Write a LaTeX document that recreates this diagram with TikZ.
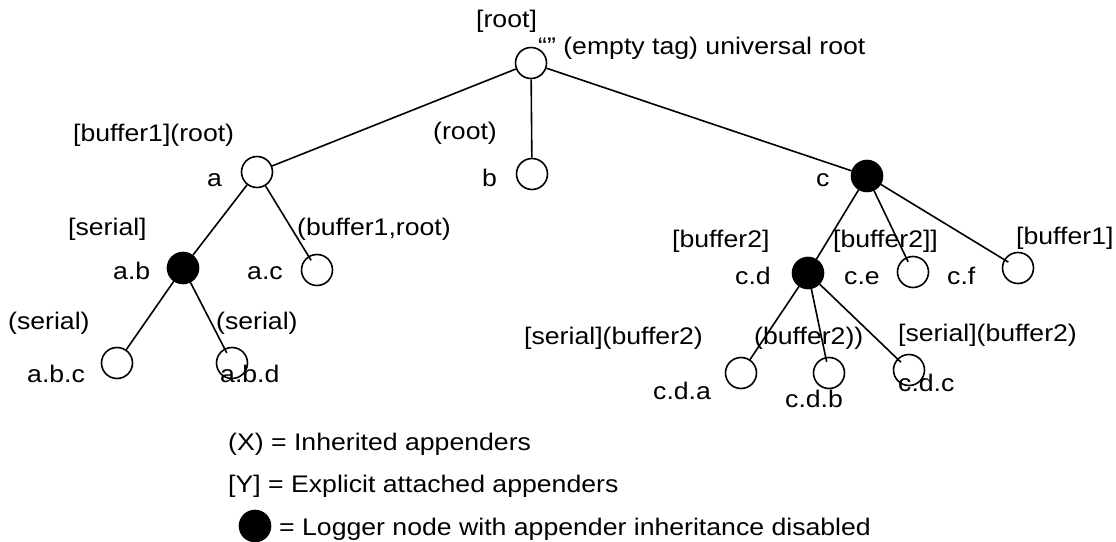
\documentclass[tikz,border=0pt]{standalone}
\usepackage{fontspec}
\setmainfont{Liberation Sans}[FakeStretch=1.11]
\tikzset{
    logger/.style = {circle, draw, line width=1.6pt, minimum size=31pt, inner sep=0pt},
    noinherit/.style = {logger, fill=black},
    lbl/.style = {anchor=base west, inner sep=0pt, font=\fontsize{24}{29}\selectfont},
    branch/.style = {line width=1.6pt},
    deep/.style = {branch, shorten >=-5pt}
}

\begin{document}
\begin{tikzpicture}[x=1pt, y=1pt]
        \useasboundingbox (0, 0) rectangle (1116, 541);
        % draw logger nodes of the tree
        \node[logger] (root) at (531, 478) {};
        \node[logger] (a) at (257, 369) {};
        \node[logger] (b) at (532, 367) {};
        \node[noinherit] (c) at (867, 365) {};
        \node[noinherit] (ab) at (183, 273) {};
        \node[logger] (ac) at (317, 271) {};
        \node[logger] (abc) at (117, 178) {};
        \node[logger] (abd) at (232, 178) {};
        \node[noinherit] (cd) at (808, 268) {};
        \node[logger] (ce) at (913, 269) {};
        \node[logger] (cf) at (1018, 273) {};
        \node[logger] (cda) at (741, 168) {};
        \node[logger] (cdb) at (829, 168) {};
        \node[logger] (cdc) at (909, 171) {};
        % connect parents with children
        \draw[branch] (root) -- (a);
        \draw[branch] (root) -- (b);
        \draw[branch] (root) -- (c);
        \draw[branch] (a) -- (ab);
        \draw[deep] (a) -- (ac);
        \draw[branch] (ab) -- (abc);
        \draw[deep] (ab) -- (abd);
        \draw[branch] (c) -- (cd);
        \draw[deep] (c) -- (ce);
        \draw[deep] (c) -- (cf);
        \draw[branch] (cd) -- (cda);
        \draw[deep] (cd) -- (cdb);
        \draw[deep] (cd) -- (cdc);
        % label logger names and their appenders
        \node[lbl] (rootapp) at (476, 513) {[root]};
        \node[lbl] (rootname) at (538, 486) {“” (empty tag) universal root};
        \node[lbl] (aapp) at (73, 399) {[buffer1](root)};
        \node[lbl] (bapp) at (433, 401) {(root)};
        \node[lbl] (aname) at (207, 354) {a};
        \node[lbl] (bname) at (482, 354) {b};
        \node[lbl] (cname) at (816, 354) {c};
        \node[lbl] (abapp) at (68, 305) {[serial]};
        \node[lbl] (acapp) at (297, 305) {(buffer1,root)};
        \node[lbl] (abname) at (113, 261) {a.b};
        \node[lbl] (acname) at (247, 261) {a.c};
        \node[lbl] (abcapp) at (8, 211) {(serial)};
        \node[lbl] (abdapp) at (216, 211) {(serial)};
        \node[lbl] (abcname) at (27, 158) {a.b.c};
        \node[lbl] (abdname) at (220, 158) {a.b.d};
        \node[lbl] (cdapp) at (672, 293) {[buffer2]};
        \node[lbl] (ceapp) at (833, 293) {[buffer2]]};
        \node[lbl] (cfapp) at (1016, 296) {[buffer1]};
        \node[lbl] (cdname) at (735, 256) {c.d};
        \node[lbl] (cename) at (844, 256) {c.e};
        \node[lbl] (cfname) at (947, 256) {c.f};
        \node[lbl] (cdaapp) at (524, 196) {[serial](buffer2)};
        \node[lbl] (cdbapp) at (754, 196) {(buffer2))};
        \node[lbl] (cdcapp) at (898, 199) {[serial](buffer2)};
        \node[lbl] (cdaname) at (653, 141) {c.d.a};
        \node[lbl] (cdbname) at (785, 133) {c.d.b};
        \node[lbl] (cdcname) at (898, 149) {c.d.c};
        % legend
        \node[lbl] (inherited) at (228, 91) {(X) = Inherited appenders};
        \node[lbl] (explicit) at (228, 49) {[Y] = Explicit attached appenders};
        \node[noinherit] (keydot) at (255, 15) {};
        \node[lbl] (keytext) at (279, 6) {= Logger node with appender inheritance disabled};
    \end{tikzpicture}
\end{document}
